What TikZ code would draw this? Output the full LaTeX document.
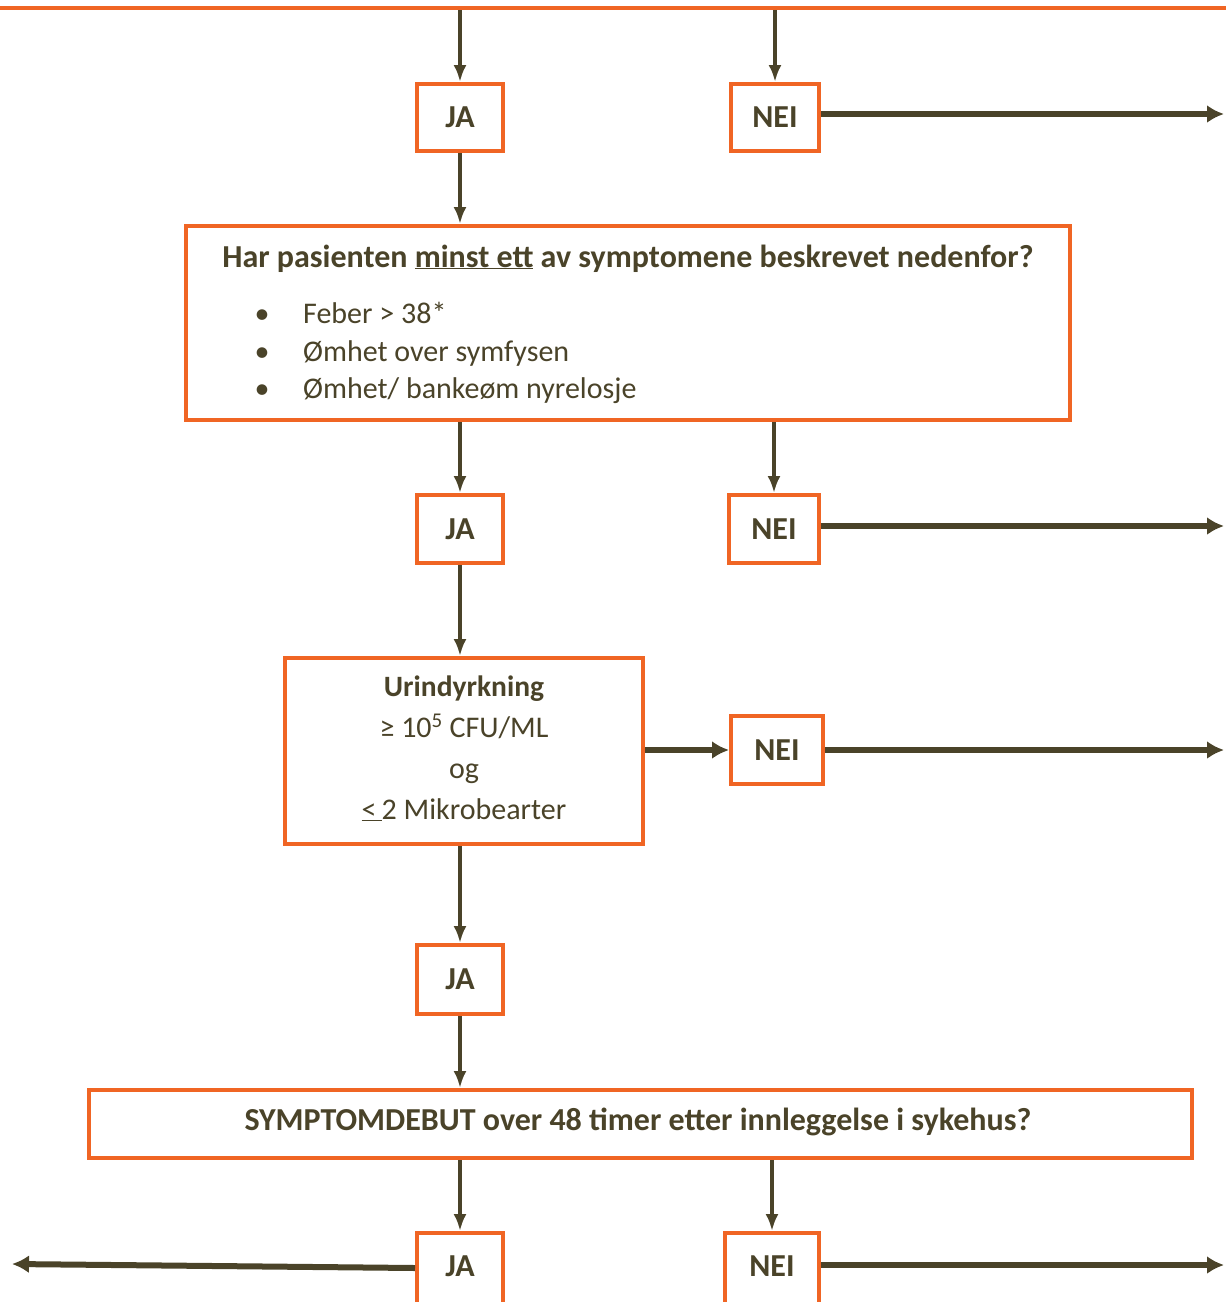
\documentclass[tikz,border=0pt]{standalone}
\usepackage{fontspec}
\setmainfont{Carlito}
\usetikzlibrary{arrows.meta}
\definecolor{org}{RGB}{240,101,36}
\definecolor{drk}{RGB}{74,67,41}
\begin{document}
\begin{tikzpicture}[x=1pt,y=-1pt,
 box/.style={draw=org, line width=4pt, fill=white, inner sep=0pt, text=drk, font=\bfseries\fontsize{32}{38}\selectfont},
 vflow/.style={draw=drk, line width=3.8pt, -{Latex[length=17pt,width=13pt]}},
 hflow/.style={draw=drk, line width=6pt, -{Latex[length=17pt,width=18pt]}},
 txt/.style={text=drk, inner sep=0pt, font=\fontsize{30}{36}\selectfont},
 btxt/.style={text=drk, inner sep=0pt, font=\bfseries\fontsize{32}{38}\selectfont}]
\useasboundingbox (0,0) rectangle (1226,1302);
\begin{scope}
\clip (0,0) rectangle (1226,1302);
\node[box, minimum width=1300pt, minimum height=60pt] (top) at (613,-22) {};
\node[box, minimum width=86pt, minimum height=67pt] (ja1) at (460,117.5) {JA};
\node[box, minimum width=88pt, minimum height=67pt] (nei1) at (775,117.5) {NEI};
\node[box, minimum width=884pt, minimum height=194pt] (big) at (628,323) {};
\node[box, minimum width=86pt, minimum height=68pt] (ja2) at (460,529) {JA};
\node[box, minimum width=90pt, minimum height=68pt] (nei2) at (774,529) {NEI};
\node[box, minimum width=358pt, minimum height=186pt] (urin) at (464,751) {};
\node[box, minimum width=92pt, minimum height=68pt] (nei3) at (777,750) {NEI};
\node[box, minimum width=86pt, minimum height=69pt] (ja3) at (460,979.5) {JA};
\node[box, minimum width=1103pt, minimum height=68pt] (sym) at (640.5,1124) {};
\node[box, minimum width=86pt, minimum height=80pt] (ja4) at (460,1273) {};
\node[box, minimum width=94pt, minimum height=80pt] (nei4) at (772,1273) {};
\node[btxt, anchor=base] (ja4t) at (460,1276) {JA};
\node[btxt, anchor=base] (nei4t) at (772,1276) {NEI};
% texts in big box
\node[btxt, anchor=base] (title) at (628,267) {Har pasienten \underline{minst ett} av symptomene beskrevet nedenfor?};
\node[txt, anchor=base] (d1) at (262,323) {•};
\node[txt, anchor=base] (d2) at (262,361) {•};
\node[txt, anchor=base] (d3) at (262,398) {•};
\node[txt, anchor=base west] (i1) at (303,323) {Feber > 38*};
\node[txt, anchor=base west] (i2) at (303,361) {Ømhet over symfysen};
\node[txt, anchor=base west] (i3) at (303,398) {Ømhet/ bankeøm nyrelosje};
% texts in urin box
\node[btxt, anchor=base, font=\bfseries\fontsize{29.5}{35}\selectfont] (u1) at (464,696) {Urindyrkning};
\node[txt, anchor=base] (u2) at (464,737) {≥ 10\textsuperscript{5} CFU/ML};
\node[txt, anchor=base] (u3) at (464,778) {og};
\node[txt, anchor=base] (u4) at (464,819) {\underline{<\,}2 Mikrobearter};
\node[btxt, anchor=base] (s1) at (638,1130) {SYMPTOMDEBUT over 48 timer etter innleggelse i sykehus?};
% vertical connectors
\draw[vflow] (top.south -| ja1.north) -- (ja1.north);
\draw[vflow] (top.south -| nei1.north) -- (nei1.north);
\draw[vflow] (ja1.south) -- (big.north -| ja1.south);
\draw[vflow] (big.south -| ja2.north) -- (ja2.north);
\draw[vflow] (big.south -| nei2.north) -- (nei2.north);
\draw[vflow] (ja2.south) -- (urin.north -| ja2.south);
\draw[vflow] (urin.south -| ja3.north) -- (ja3.north);
\draw[vflow] (ja3.south) -- (sym.north -| ja3.south);
\draw[vflow] (sym.south -| ja4.north) -- (ja4.north);
\draw[vflow] (sym.south -| nei4.north) -- (nei4.north);
% horizontal connectors
\coordinate (o1) at (1224,114);
\coordinate (o2) at (1224,526);
\coordinate (o3) at (1224,750);
\coordinate (o4) at (1224,1265);
\coordinate (oL) at (12,1264);
\draw[hflow] (nei1.east |- o1) -- (o1);
\draw[hflow] (nei2.east |- o2) -- (o2);
\draw[hflow] (urin.east |- nei3.west) -- (nei3.west);
\draw[hflow] (nei3.east |- o3) -- (o3);
\draw[hflow] (nei4.east |- o4) -- (o4);
\draw[hflow] ([yshift=5pt]ja4.west) -- (oL);
\end{scope}
\end{tikzpicture}
\end{document}
